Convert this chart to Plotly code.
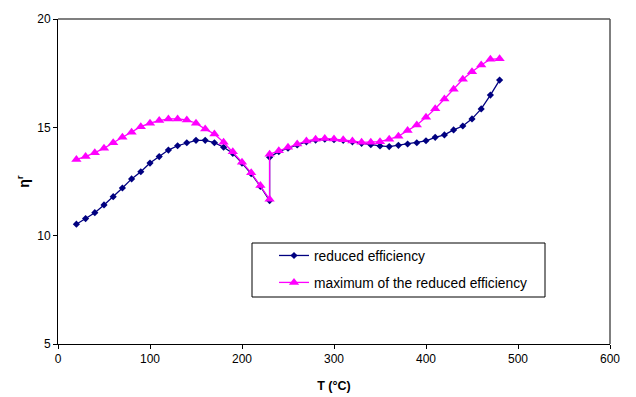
import plotly.graph_objects as go

# Temperature (°C)
T_red = [20, 30, 40, 50, 60, 70, 80, 90, 100, 110, 120, 130, 140, 150, 160, 170, 180, 190, 200, 210, 220, 230,
         230, 240, 250, 260, 270, 280, 290, 300, 310, 320, 330, 340, 350, 360, 370, 380, 390, 400, 410, 420,
         430, 440, 450, 460, 470, 480]
eta_red = [10.53, 10.79, 11.06, 11.42, 11.80, 12.20, 12.62, 12.95, 13.35, 13.65, 13.95, 14.15, 14.29, 14.40,
           14.40, 14.29, 14.08, 13.80, 13.35, 12.86, 12.27, 11.62,
           13.62, 13.88, 14.04, 14.19, 14.33, 14.41, 14.45, 14.43, 14.40, 14.33, 14.26, 14.20, 14.14, 14.11,
           14.17, 14.23, 14.29, 14.38, 14.54, 14.65, 14.88, 15.06, 15.39, 15.85, 16.49, 17.18]

T_max = T_red
eta_max = [13.52, 13.65, 13.83, 14.03, 14.29, 14.54, 14.77, 15.03, 15.19, 15.31, 15.39, 15.39, 15.34, 15.19,
           14.92, 14.69, 14.31, 13.87, 13.39, 12.90, 12.31, 11.68,
           13.76, 13.92, 14.08, 14.23, 14.37, 14.45, 14.49, 14.46, 14.43, 14.37, 14.31, 14.31, 14.34, 14.45,
           14.59, 14.85, 15.11, 15.46, 15.86, 16.31, 16.76, 17.22, 17.57, 17.88, 18.14, 18.17]

x_ticks = [0, 100, 200, 300, 400, 500, 600]
y_ticks = [5, 10, 15, 20]

FONT = "Liberation Sans, Arial, sans-serif"

fig = go.Figure()
fig.add_trace(go.Scatter(
    x=T_red, y=eta_red, mode="lines+markers", name="reduced efficiency",
    line=dict(color="#000080", width=1.3),
    marker=dict(symbol="diamond", size=5.5, color="#000080"),
    legendgroup="a",
))
fig.add_trace(go.Scatter(
    x=T_max, y=eta_max, mode="lines+markers", name="maximum of the reduced efficiency",
    line=dict(color="#FF00FF", width=1.3),
    marker=dict(symbol="triangle-up", size=9, color="#FF00FF"),
    legendgroup="b",
))

W, H = 636, 397
L, R, Tm, B = 58, 26, 19, 53
pw, ph = W - L - R, H - Tm - B

def px_x(p):
    return (p - L) / pw

def px_y(p):
    return 1 - (p - Tm) / ph

fig.update_layout(
    width=W, height=H,
    margin=dict(l=L, r=R, t=Tm, b=B, pad=0, autoexpand=False),
    paper_bgcolor="white", plot_bgcolor="white",
    font=dict(family=FONT, size=12, color="black"),
    showlegend=True,
    legend=dict(
        x=px_x(274), y=px_y(240), xanchor="left", yanchor="top",
        bgcolor="rgba(0,0,0,0)", borderwidth=0,
        font=dict(family=FONT, size=13.8, color="black"),
        tracegroupgap=6,
    ),
    xaxis=dict(
        range=[0, 600], tickvals=x_ticks, ticks="outside", ticklen=4, tickcolor="black",
        showline=True, linecolor="black", linewidth=1, mirror=False,
        showgrid=False, zeroline=False, automargin=False,
        tickfont=dict(family=FONT, size=12),
        title=dict(text="<b>T (°C)</b>", font=dict(family=FONT, size=12.5), standoff=15),
    ),
    yaxis=dict(
        range=[5, 20], tickvals=y_ticks, ticks="outside", ticklen=4, tickcolor="black",
        showline=True, linecolor="black", linewidth=1, mirror=False,
        showgrid=False, zeroline=False, automargin=False,
        tickfont=dict(family=FONT, size=12),
        title=dict(text="<b>η<sup>r</sup></b>", font=dict(family=FONT, size=14), standoff=4),
    ),
    shapes=[
        # top and right frame of plot area
        dict(type="line", xref="paper", yref="paper", x0=0, x1=1, y0=1, y1=1,
             line=dict(color="#555555", width=1.5)),
        dict(type="line", xref="paper", yref="paper", x0=1, x1=1, y0=0, y1=1,
             line=dict(color="#555555", width=1.5)),
        # legend box
        dict(type="rect", xref="paper", yref="paper",
             x0=px_x(252), x1=px_x(545), y0=px_y(297), y1=px_y(243),
             line=dict(color="black", width=1), fillcolor="white", layer="below"),
    ],
)

fig.write_html("out.html")
